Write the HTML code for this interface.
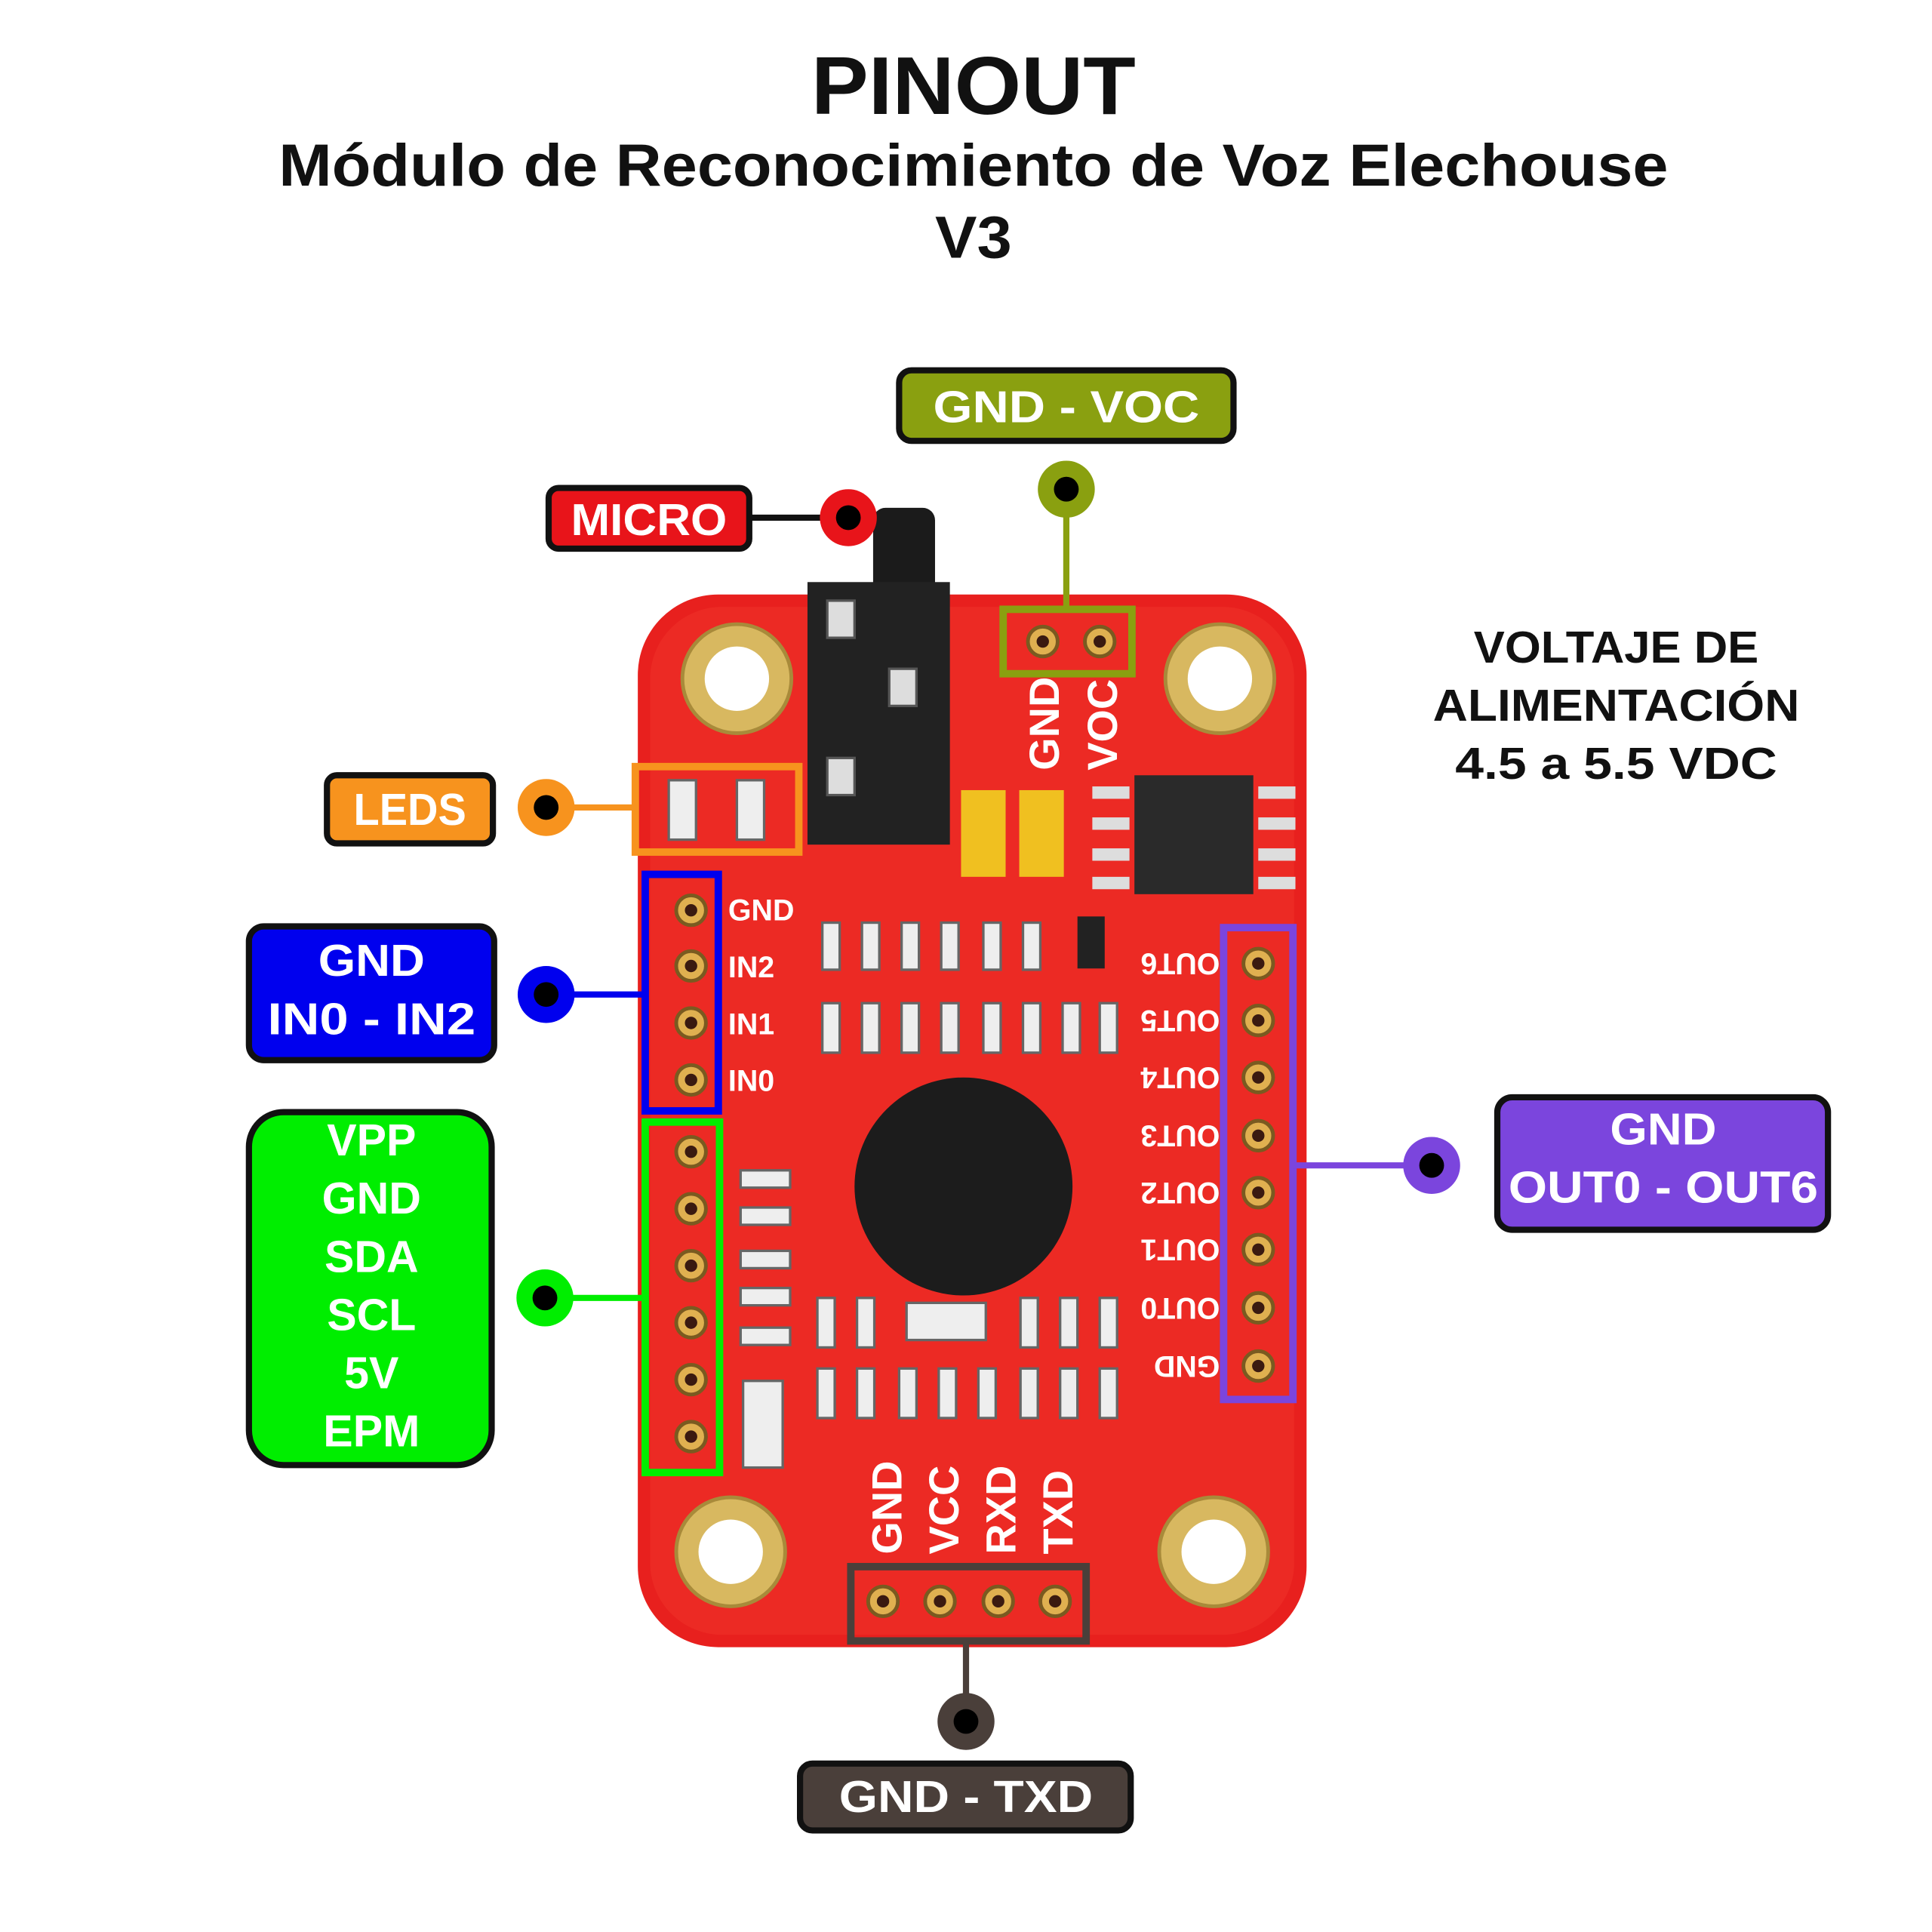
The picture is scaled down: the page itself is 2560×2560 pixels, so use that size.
<!DOCTYPE html>
<html><head><meta charset="utf-8"><style>
html,body{margin:0;padding:0;background:#fff;}
svg{display:block}
text{font-family:"Liberation Sans",sans-serif;font-weight:bold}
</style></head><body>
<svg width="2560" height="2560" viewBox="0 0 1560 1560" xmlns="http://www.w3.org/2000/svg">
<rect width="1560" height="1560" fill="#fff"/>
<!-- Titles -->
<text x="786" y="92" font-size="66" text-anchor="middle" fill="#111" textLength="262" lengthAdjust="spacingAndGlyphs">PINOUT</text>
<text x="786" y="150" font-size="48" text-anchor="middle" fill="#111" textLength="1122" lengthAdjust="spacingAndGlyphs">Módulo de Reconocimiento de Voz Elechouse</text>
<text x="786" y="208" font-size="48" text-anchor="middle" fill="#111" textLength="62" lengthAdjust="spacingAndGlyphs">V3</text>
<g font-size="36" text-anchor="middle" fill="#111">
<text x="1305" y="535" textLength="230" lengthAdjust="spacingAndGlyphs">VOLTAJE DE</text>
<text x="1305" y="582" textLength="296" lengthAdjust="spacingAndGlyphs">ALIMENTACIÓN</text>
<text x="1305" y="629" textLength="260" lengthAdjust="spacingAndGlyphs">4.5 a 5.5 VDC</text></g>

<!-- Board -->
<rect x="515" y="480" width="540" height="850" rx="65" fill="#e8201e"/>
<rect x="525" y="490" width="520" height="830" rx="58" fill="#ec2a24"/>
<g fill="#d8b860" stroke="#a88a3a" stroke-width="3">
<circle cx="595" cy="548" r="44"/><circle cx="985" cy="548" r="44"/>
<circle cx="590" cy="1253" r="44"/><circle cx="980" cy="1253" r="44"/></g>
<g fill="#fff"><circle cx="595" cy="548" r="26"/><circle cx="985" cy="548" r="26"/>
<circle cx="590" cy="1253" r="26"/><circle cx="980" cy="1253" r="26"/></g>
<rect x="705" y="410" width="50" height="80" rx="10" fill="#1b1b1b"/>
<rect x="652" y="470" width="115" height="212" fill="#222"/>
<g fill="#ddd" stroke="#555" stroke-width="2">
<rect x="668" y="485" width="22" height="30"/><rect x="718" y="540" width="22" height="30"/><rect x="668" y="612" width="22" height="30"/></g>
<rect x="776" y="638" width="36" height="70" fill="#f0c020"/><rect x="823" y="638" width="36" height="70" fill="#f0c020"/>
<rect x="916" y="626" width="96" height="96" fill="#2a2a2a"/>
<g fill="#ddd"><rect x="882" y="635" width="30" height="10"/><rect x="882" y="660" width="30" height="10"/><rect x="882" y="685" width="30" height="10"/><rect x="882" y="708" width="30" height="10"/>
<rect x="1016" y="635" width="30" height="10"/><rect x="1016" y="660" width="30" height="10"/><rect x="1016" y="685" width="30" height="10"/><rect x="1016" y="708" width="30" height="10"/></g>
<g fill="#eee" stroke="#666" stroke-width="2">
<rect x="664" y="745" width="14" height="38"/><rect x="696" y="745" width="14" height="38"/><rect x="728" y="745" width="14" height="38"/><rect x="760" y="745" width="14" height="38"/><rect x="794" y="745" width="14" height="38"/><rect x="826" y="745" width="14" height="38"/>
<rect x="664" y="810" width="14" height="40"/><rect x="696" y="810" width="14" height="40"/><rect x="728" y="810" width="14" height="40"/><rect x="760" y="810" width="14" height="40"/><rect x="794" y="810" width="14" height="40"/><rect x="826" y="810" width="14" height="40"/><rect x="858" y="810" width="14" height="40"/><rect x="888" y="810" width="14" height="40"/>
<rect x="660" y="1048" width="14" height="40"/><rect x="692" y="1048" width="14" height="40"/><rect x="824" y="1048" width="14" height="40"/><rect x="856" y="1048" width="14" height="40"/><rect x="888" y="1048" width="14" height="40"/>
<rect x="660" y="1105" width="14" height="40"/><rect x="692" y="1105" width="14" height="40"/><rect x="726" y="1105" width="14" height="40"/><rect x="758" y="1105" width="14" height="40"/><rect x="790" y="1105" width="14" height="40"/><rect x="824" y="1105" width="14" height="40"/><rect x="856" y="1105" width="14" height="40"/><rect x="888" y="1105" width="14" height="40"/>
<rect x="598" y="945" width="40" height="14"/><rect x="598" y="975" width="40" height="14"/><rect x="598" y="1010" width="40" height="14"/><rect x="598" y="1040" width="40" height="14"/><rect x="598" y="1072" width="40" height="14"/>
<rect x="600" y="1115" width="32" height="70"/><rect x="732" y="1052" width="64" height="30"/>
<rect x="540" y="630" width="22" height="48"/><rect x="595" y="630" width="22" height="48"/></g>
<rect x="870" y="740" width="22" height="42" fill="#222"/>
<circle cx="778" cy="958" r="88" fill="#1c1c1c"/>

<g fill="#e0b050" stroke="#7a5a20" stroke-width="3">
<circle cx="842" cy="518" r="12"/><circle cx="888" cy="518" r="12"/>
<circle cx="558" cy="735" r="12"/><circle cx="558" cy="780" r="12"/><circle cx="558" cy="826" r="12"/><circle cx="558" cy="872" r="12"/>
<circle cx="558" cy="930" r="12"/><circle cx="558" cy="976" r="12"/><circle cx="558" cy="1022" r="12"/><circle cx="558" cy="1068" r="12"/><circle cx="558" cy="1114" r="12"/><circle cx="558" cy="1160" r="12"/>
<circle cx="1016" cy="778" r="12"/><circle cx="1016" cy="824" r="12"/><circle cx="1016" cy="870" r="12"/><circle cx="1016" cy="917" r="12"/><circle cx="1016" cy="963" r="12"/><circle cx="1016" cy="1009" r="12"/><circle cx="1016" cy="1056" r="12"/><circle cx="1016" cy="1103" r="12"/>
<circle cx="713" cy="1293" r="12"/><circle cx="759" cy="1293" r="12"/><circle cx="806" cy="1293" r="12"/><circle cx="852" cy="1293" r="12"/></g>
<g fill="#3a1a10"><circle cx="842" cy="518" r="5"/><circle cx="888" cy="518" r="5"/>
<circle cx="558" cy="735" r="5"/><circle cx="558" cy="780" r="5"/><circle cx="558" cy="826" r="5"/><circle cx="558" cy="872" r="5"/>
<circle cx="558" cy="930" r="5"/><circle cx="558" cy="976" r="5"/><circle cx="558" cy="1022" r="5"/><circle cx="558" cy="1068" r="5"/><circle cx="558" cy="1114" r="5"/><circle cx="558" cy="1160" r="5"/>
<circle cx="1016" cy="778" r="5"/><circle cx="1016" cy="824" r="5"/><circle cx="1016" cy="870" r="5"/><circle cx="1016" cy="917" r="5"/><circle cx="1016" cy="963" r="5"/><circle cx="1016" cy="1009" r="5"/><circle cx="1016" cy="1056" r="5"/><circle cx="1016" cy="1103" r="5"/>
<circle cx="713" cy="1293" r="5"/><circle cx="759" cy="1293" r="5"/><circle cx="806" cy="1293" r="5"/><circle cx="852" cy="1293" r="5"/></g>

<g fill="#fff" font-size="24" style="font-family:'Liberation Mono',monospace">
<text x="588" y="743">GND</text>
<text x="588" y="789">IN2</text>
<text x="588" y="835">IN1</text>
<text x="588" y="881">IN0</text>
<text transform="translate(985,770) rotate(180)">OUT6</text>
<text transform="translate(985,816) rotate(180)">OUT5</text>
<text transform="translate(985,862) rotate(180)">OUT4</text>
<text transform="translate(985,909) rotate(180)">OUT3</text>
<text transform="translate(985,955) rotate(180)">OUT2</text>
<text transform="translate(985,1001) rotate(180)">OUT1</text>
<text transform="translate(985,1048) rotate(180)">OUT0</text>
<text transform="translate(985,1095) rotate(180)">GND</text>
</g>
<g fill="#fff" font-size="34">
<text transform="translate(855,622) rotate(-90)">GND</text>
<text transform="translate(902,622) rotate(-90)">VOC</text>
<text transform="translate(728,1255) rotate(-90)">GND</text>
<text transform="translate(774,1255) rotate(-90)">VCC</text>
<text transform="translate(820,1255) rotate(-90)">RXD</text>
<text transform="translate(866,1255) rotate(-90)">TXD</text>
</g>

<rect x="810" y="492" width="104" height="52" fill="none" stroke="#8aa010" stroke-width="6"/>
<rect x="513" y="619" width="132" height="69" fill="none" stroke="#f7931e" stroke-width="6"/>
<rect x="521" y="706" width="59" height="191" fill="none" stroke="#0000ee" stroke-width="6"/>
<rect x="521" y="906" width="60" height="283" fill="none" stroke="#00ee00" stroke-width="6"/>
<rect x="988" y="749" width="56" height="381" fill="none" stroke="#7b45dd" stroke-width="6"/>
<rect x="687" y="1265" width="190" height="60" fill="none" stroke="#4a3f3a" stroke-width="6"/>

<g stroke-width="5">
<line x1="861" y1="395" x2="861" y2="492" stroke="#8aa010"/>
<line x1="606" y1="418" x2="685" y2="418" stroke="#111"/>
<line x1="441" y1="652" x2="513" y2="652" stroke="#f7931e"/>
<line x1="441" y1="803" x2="521" y2="803" stroke="#0000ee"/>
<line x1="440" y1="1048" x2="521" y2="1048" stroke="#00ee00"/>
<line x1="1044" y1="941" x2="1156" y2="941" stroke="#7b45dd"/>
<line x1="780" y1="1325" x2="780" y2="1390" stroke="#4a3f3a"/>
</g>
<g>
<circle cx="861" cy="395" r="23" fill="#8aa010"/><circle cx="861" cy="395" r="10" fill="#000"/>
<circle cx="685" cy="418" r="23" fill="#e8141a"/><circle cx="685" cy="418" r="10" fill="#000"/>
<circle cx="441" cy="652" r="23" fill="#f7931e"/><circle cx="441" cy="652" r="10" fill="#000"/>
<circle cx="441" cy="803" r="23" fill="#0000ee"/><circle cx="441" cy="803" r="10" fill="#000"/>
<circle cx="440" cy="1048" r="23" fill="#00ee00"/><circle cx="440" cy="1048" r="10" fill="#000"/>
<circle cx="1156" cy="941" r="23" fill="#7b45dd"/><circle cx="1156" cy="941" r="10" fill="#000"/>
<circle cx="780" cy="1390" r="23" fill="#4a3f3a"/><circle cx="780" cy="1390" r="10" fill="#000"/>
</g>

<g stroke="#111" stroke-width="5">
<rect x="726" y="299" width="270" height="57" rx="10" fill="#8aa010"/>
<rect x="443" y="394" width="162" height="49" rx="8" fill="#e8141a"/>
<rect x="264" y="626" width="134" height="55" rx="8" fill="#f7931e"/>
<rect x="201" y="748" width="198" height="108" rx="12" fill="#0000ee"/>
<rect x="201" y="898" width="196" height="285" rx="28" fill="#00ee00"/>
<rect x="1209" y="886" width="267" height="107" rx="12" fill="#7b45dd"/>
<rect x="646" y="1424" width="267" height="54" rx="10" fill="#4a3f3a"/>
</g>
<g fill="#fff" text-anchor="middle" font-size="36">
<text x="861" y="341" textLength="215" lengthAdjust="spacingAndGlyphs">GND - VOC</text>
<text x="524" y="432" textLength="126" lengthAdjust="spacingAndGlyphs">MICRO</text>
<text x="331" y="666" textLength="91" lengthAdjust="spacingAndGlyphs">LEDS</text>
<text x="300" y="788" textLength="86" lengthAdjust="spacingAndGlyphs">GND</text><text x="300" y="835" textLength="168" lengthAdjust="spacingAndGlyphs">IN0 - IN2</text>
<text x="300" y="933">VPP</text><text x="300" y="980">GND</text><text x="300" y="1027">SDA</text><text x="300" y="1074">SCL</text><text x="300" y="1121">5V</text><text x="300" y="1168">EPM</text>
<text x="1343" y="924" textLength="86" lengthAdjust="spacingAndGlyphs">GND</text><text x="1343" y="971" textLength="250" lengthAdjust="spacingAndGlyphs">OUT0 - OUT6</text>
<text x="780" y="1463" textLength="205" lengthAdjust="spacingAndGlyphs">GND - TXD</text>
</g>
</svg>
</body></html>
